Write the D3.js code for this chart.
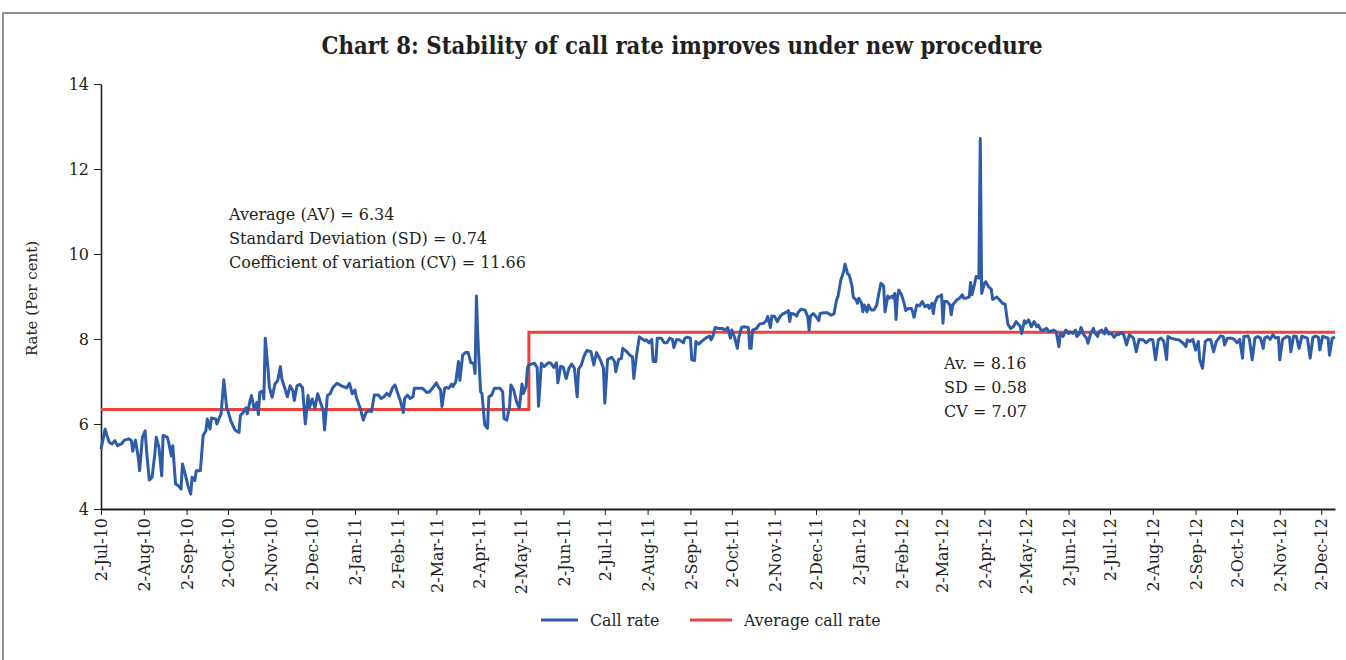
<!DOCTYPE html>
<html>
<head>
<meta charset="utf-8">
<script src="https://cdn.jsdelivr.net/npm/d3@7"></script>
<style>
  body { margin: 0; background: #fff; }
  svg { display: block; }
  text { font-family: "DejaVu Serif", serif; fill: #231f20; }
</style>
</head>
<body>
<svg id="chart"></svg>
<script>
// values (per cent)
const callRate = [
  ["2010-07-02",5.41],["2010-07-05",5.88],["2010-07-06",5.76],["2010-07-08",5.57],["2010-07-10",5.53],["2010-07-12",5.61],["2010-07-14",5.49],["2010-07-17",5.54],["2010-07-19",5.62],["2010-07-22",5.65],["2010-07-24",5.61],["2010-07-25",5.36],["2010-07-27",5.62],["2010-07-29",5.22],["2010-07-30",4.9],
  ["2010-08-01",5.69],["2010-08-03",5.84],["2010-08-04",5.37],["2010-08-06",4.68],["2010-08-08",4.75],["2010-08-10",5.29],["2010-08-11",5.69],["2010-08-13",5.45],["2010-08-15",4.78],["2010-08-16",5.73],["2010-08-19",5.69],["2010-08-20",5.57],["2010-08-22",5.25],["2010-08-23",5.49],["2010-08-25",4.59],["2010-08-27",4.55],["2010-08-29",4.47],["2010-08-30",5.06],
  ["2010-09-01",4.82],["2010-09-03",4.55],["2010-09-05",4.35],["2010-09-06",4.75],["2010-09-08",4.67],["2010-09-09",4.9],["2010-09-12",4.9],["2010-09-14",5.73],["2010-09-16",5.84],["2010-09-17",6.12],["2010-09-19",5.88],["2010-09-20",6.14],["2010-09-23",6.12],["2010-09-24",6.0],["2010-09-26",6.17],["2010-09-27",6.24],["2010-09-29",7.04],
  ["2010-10-01",6.39],["2010-10-02",6.31],["2010-10-04",6.08],["2010-10-07",5.86],["2010-10-10",5.8],["2010-10-11",6.2],["2010-10-13",6.27],["2010-10-15",6.38],["2010-10-16",6.24],["2010-10-18",6.55],["2010-10-19",6.67],["2010-10-21",6.35],["2010-10-23",6.51],["2010-10-24",6.22],["2010-10-25",6.75],["2010-10-27",6.77],["2010-10-28",6.59],["2010-10-29",8.02],["2010-10-31",7.29],
  ["2010-11-01",6.86],["2010-11-03",6.63],["2010-11-05",6.94],["2010-11-07",7.02],["2010-11-09",7.35],["2010-11-10",7.06],["2010-11-12",6.86],["2010-11-14",6.64],["2010-11-16",6.9],["2010-11-18",6.78],["2010-11-19",6.55],["2010-11-21",6.9],["2010-11-23",6.93],["2010-11-25",6.86],["2010-11-27",6.0],["2010-11-29",6.67],["2010-11-30",6.39],
  ["2010-12-02",6.59],["2010-12-04",6.38],["2010-12-06",6.71],["2010-12-08",6.51],["2010-12-10",6.31],["2010-12-11",5.86],["2010-12-13",6.67],["2010-12-15",6.71],["2010-12-17",6.86],["2010-12-20",6.96],["2010-12-23",6.9],["2010-12-27",6.85],["2010-12-29",6.96],["2010-12-31",6.71],
  ["2011-01-02",6.8],["2011-01-03",6.63],["2011-01-06",6.35],["2011-01-08",6.09],["2011-01-10",6.27],["2011-01-12",6.31],["2011-01-14",6.29],["2011-01-16",6.68],["2011-01-19",6.68],["2011-01-21",6.6],["2011-01-23",6.64],["2011-01-25",6.72],["2011-01-27",6.66],["2011-01-29",6.84],["2011-01-31",6.92],
  ["2011-02-02",6.72],["2011-02-04",6.53],["2011-02-06",6.27],["2011-02-07",6.6],["2011-02-09",6.68],["2011-02-11",6.6],["2011-02-13",6.64],["2011-02-14",6.84],["2011-02-17",6.84],["2011-02-20",6.84],["2011-02-23",6.74],["2011-02-25",6.76],["2011-02-28",6.88],
  ["2011-03-02",6.97],["2011-03-03",6.89],["2011-03-05",6.8],["2011-03-06",6.41],["2011-03-08",6.84],["2011-03-09",6.86],["2011-03-11",6.84],["2011-03-13",6.94],["2011-03-14",6.88],["2011-03-16",6.99],["2011-03-18",7.47],["2011-03-19",7.03],["2011-03-21",7.62],["2011-03-23",7.68],["2011-03-25",7.68],["2011-03-27",7.44],["2011-03-29",7.43],["2011-03-30",7.19],["2011-03-31",9.01],
  ["2011-04-01",8.05],["2011-04-03",6.76],["2011-04-04",6.72],["2011-04-06",5.98],["2011-04-08",5.9],["2011-04-09",6.64],["2011-04-11",6.68],["2011-04-13",6.84],["2011-04-17",6.84],["2011-04-19",6.76],["2011-04-20",6.13],["2011-04-22",6.09],["2011-04-24",6.42],["2011-04-25",6.92],["2011-04-27",6.8],["2011-04-29",6.53],
  ["2011-05-01",6.37],["2011-05-03",6.94],["2011-05-04",6.72],["2011-05-06",6.89],["2011-05-07",7.33],["2011-05-08",7.39],["2011-05-10",7.41],["2011-05-12",7.43],["2011-05-14",7.33],["2011-05-15",6.42],["2011-05-17",7.43],["2011-05-19",7.35],["2011-05-21",7.41],["2011-05-22",7.44],["2011-05-24",7.43],["2011-05-26",7.33],["2011-05-28",7.44],["2011-05-29",6.97],["2011-05-31",7.36],
  ["2011-06-02",7.33],["2011-06-03",7.19],["2011-06-04",7.07],["2011-06-06",7.31],["2011-06-08",7.41],["2011-06-10",7.31],["2011-06-12",6.64],["2011-06-13",7.29],["2011-06-15",7.39],["2011-06-17",7.6],["2011-06-19",7.73],["2011-06-22",7.7],["2011-06-24",7.39],["2011-06-26",7.68],["2011-06-27",7.62],["2011-06-29",7.49],
  ["2011-07-01",7.31],["2011-07-02",6.49],["2011-07-04",7.52],["2011-07-07",7.57],["2011-07-09",7.47],["2011-07-10",7.23],["2011-07-12",7.52],["2011-07-14",7.54],["2011-07-15",7.78],["2011-07-18",7.7],["2011-07-20",7.62],["2011-07-22",7.58],["2011-07-23",7.07],["2011-07-25",7.62],["2011-07-27",8.05],["2011-07-31",7.96],
  ["2011-08-01",7.98],["2011-08-03",7.91],["2011-08-05",7.99],["2011-08-06",7.47],["2011-08-08",7.47],["2011-08-09",8.02],["2011-08-12",8.02],["2011-08-14",7.91],["2011-08-16",7.91],["2011-08-18",8.02],["2011-08-20",7.99],["2011-08-21",7.8],["2011-08-23",7.99],["2011-08-25",7.98],["2011-08-28",7.91],["2011-08-29",8.02],["2011-08-31",8.04],
  ["2011-09-02",8.02],["2011-09-03",7.51],["2011-09-05",7.49],["2011-09-06",7.94],["2011-09-08",7.88],["2011-09-10",7.94],["2011-09-12",7.99],["2011-09-14",8.04],["2011-09-16",8.07],["2011-09-17",7.98],["2011-09-18",8.04],["2011-09-20",8.27],["2011-09-22",8.25],["2011-09-25",8.25],["2011-09-27",8.21],["2011-09-29",8.27],
  ["2011-10-01",8.02],["2011-10-02",8.21],["2011-10-04",8.04],["2011-10-06",7.78],["2011-10-07",8.02],["2011-10-09",8.27],["2011-10-11",8.29],["2011-10-14",8.27],["2011-10-15",7.78],["2011-10-16",7.78],["2011-10-17",8.21],["2011-10-20",8.25],["2011-10-22",8.35],["2011-10-25",8.37],["2011-10-27",8.43],["2011-10-28",8.53],["2011-10-30",8.27],["2011-10-31",8.54],
  ["2011-11-02",8.53],["2011-11-04",8.41],["2011-11-06",8.53],["2011-11-08",8.59],["2011-11-11",8.64],["2011-11-12",8.67],["2011-11-13",8.41],["2011-11-14",8.6],["2011-11-16",8.59],["2011-11-18",8.54],["2011-11-19",8.62],["2011-11-21",8.7],["2011-11-24",8.68],["2011-11-26",8.53],["2011-11-27",8.21],["2011-11-28",8.54],["2011-11-30",8.6],
  ["2011-12-02",8.53],["2011-12-04",8.43],["2011-12-05",8.6],["2011-12-08",8.62],["2011-12-10",8.62],["2011-12-13",8.56],["2011-12-15",8.59],["2011-12-17",8.93],["2011-12-18",9.01],["2011-12-20",9.39],["2011-12-22",9.58],["2011-12-23",9.76],["2011-12-25",9.53],["2011-12-26",9.51],["2011-12-28",9.27],["2011-12-29",8.99],["2011-12-31",8.92],
  ["2012-01-01",8.84],["2012-01-02",8.96],["2012-01-04",8.84],["2012-01-05",8.64],["2012-01-06",8.8],["2012-01-08",8.64],["2012-01-09",8.8],["2012-01-11",8.68],["2012-01-13",8.68],["2012-01-15",8.8],["2012-01-16",8.98],["2012-01-18",9.31],["2012-01-20",9.25],["2012-01-21",8.64],["2012-01-23",9.01],["2012-01-24",8.96],["2012-01-26",9.01],["2012-01-27",8.96],["2012-01-28",9.07],["2012-01-29",8.46],["2012-01-30",8.99],["2012-01-31",9.15],
  ["2012-02-02",9.04],["2012-02-04",8.82],["2012-02-05",8.67],["2012-02-07",8.72],["2012-02-09",8.72],["2012-02-10",8.64],["2012-02-11",8.51],["2012-02-13",8.8],["2012-02-15",8.78],["2012-02-17",8.88],["2012-02-19",8.76],["2012-02-21",8.8],["2012-02-22",8.72],["2012-02-24",8.84],["2012-02-25",8.6],["2012-02-26",8.84],["2012-02-28",8.99],
  ["2012-03-01",9.01],["2012-03-02",9.04],["2012-03-03",8.37],["2012-03-04",8.88],["2012-03-06",8.88],["2012-03-08",8.8],["2012-03-09",8.57],["2012-03-10",8.8],["2012-03-13",8.92],["2012-03-15",8.96],["2012-03-17",9.04],["2012-03-18",8.96],["2012-03-20",8.96],["2012-03-22",8.99],["2012-03-23",9.33],["2012-03-24",9.04],["2012-03-26",9.31],["2012-03-27",9.47],["2012-03-29",9.43],["2012-03-30",12.72],["2012-03-31",9.07],
  ["2012-04-02",9.31],["2012-04-03",9.35],["2012-04-05",9.23],["2012-04-07",9.17],["2012-04-08",8.93],["2012-04-11",8.99],["2012-04-13",8.92],["2012-04-15",8.84],["2012-04-17",8.82],["2012-04-19",8.35],["2012-04-21",8.25],["2012-04-23",8.29],["2012-04-25",8.41],["2012-04-28",8.29],["2012-04-29",8.13],
  ["2012-05-01",8.43],["2012-05-02",8.37],["2012-05-04",8.45],["2012-05-06",8.29],["2012-05-08",8.41],["2012-05-10",8.29],["2012-05-11",8.33],["2012-05-13",8.21],["2012-05-15",8.21],["2012-05-17",8.25],["2012-05-19",8.17],["2012-05-22",8.21],["2012-05-24",8.17],["2012-05-26",7.82],["2012-05-27",8.13],["2012-05-29",8.06],["2012-05-31",8.21],
  ["2012-06-02",8.13],["2012-06-03",8.17],["2012-06-05",8.13],["2012-06-07",8.21],["2012-06-08",8.06],["2012-06-10",8.13],["2012-06-11",8.27],["2012-06-13",8.1],["2012-06-15",8.02],["2012-06-16",7.9],["2012-06-18",8.13],["2012-06-20",8.25],["2012-06-21",8.15],["2012-06-23",8.06],["2012-06-24",8.17],["2012-06-26",8.21],["2012-06-28",8.12],["2012-06-29",8.25],
  ["2012-07-01",8.12],["2012-07-03",8.13],["2012-07-05",8.04],["2012-07-07",8.12],["2012-07-08",8.1],["2012-07-10",8.15],["2012-07-12",8.1],["2012-07-14",7.86],["2012-07-16",8.1],["2012-07-19",8.02],["2012-07-21",7.7],["2012-07-23",7.99],["2012-07-26",7.98],["2012-07-28",7.91],["2012-07-31",7.99],
  ["2012-08-02",7.98],["2012-08-04",7.51],["2012-08-06",7.98],["2012-08-08",8.02],["2012-08-10",7.94],["2012-08-12",7.52],["2012-08-13",8.06],["2012-08-15",8.02],["2012-08-19",7.99],["2012-08-21",7.98],["2012-08-24",7.9],["2012-08-26",7.82],["2012-08-27",7.98],["2012-08-29",7.94],["2012-08-31",7.99],
  ["2012-09-02",7.74],["2012-09-04",7.94],["2012-09-05",7.51],["2012-09-07",7.31],["2012-09-09",7.94],["2012-09-11",7.99],["2012-09-13",7.98],["2012-09-15",7.7],["2012-09-17",7.94],["2012-09-20",8.07],["2012-09-22",8.06],["2012-09-23",7.86],["2012-09-25",8.02],["2012-09-28",8.02],["2012-09-30",7.99],
  ["2012-10-02",7.91],["2012-10-04",7.99],["2012-10-06",7.55],["2012-10-07",8.06],["2012-10-10",8.07],["2012-10-11",7.99],["2012-10-13",7.51],["2012-10-15",8.02],["2012-10-17",8.06],["2012-10-19",8.02],["2012-10-21",7.78],["2012-10-22",8.02],["2012-10-24",8.06],["2012-10-26",7.99],["2012-10-28",8.1],["2012-10-30",8.02],
  ["2012-11-01",8.04],["2012-11-02",7.51],["2012-11-04",7.99],["2012-11-07",8.06],["2012-11-09",8.04],["2012-11-10",7.7],["2012-11-12",8.07],["2012-11-14",8.06],["2012-11-16",7.78],["2012-11-18",8.07],["2012-11-20",8.04],["2012-11-22",8.02],["2012-11-24",7.55],["2012-11-26",8.04],["2012-11-28",8.07],["2012-11-30",8.04],
  ["2012-12-01",7.74],["2012-12-03",8.06],["2012-12-05",8.04],["2012-12-07",8.02],["2012-12-08",7.62],["2012-12-10",8.02],["2012-12-12",8.04]
];

// average call rate before / after the new operating procedure
const averageDates = ["2010-07-02", "2011-05-08", "2012-12-12"];
const averageValues = [6.34, 8.16, 8.16];

const yTicks = [4, 6, 8, 10, 12, 14];
const xTickLabels = [
  "2-Jul-10", "2-Aug-10", "2-Sep-10", "2-Oct-10", "2-Nov-10", "2-Dec-10",
  "2-Jan-11", "2-Feb-11", "2-Mar-11", "2-Apr-11", "2-May-11", "2-Jun-11",
  "2-Jul-11", "2-Aug-11", "2-Sep-11", "2-Oct-11", "2-Nov-11", "2-Dec-11",
  "2-Jan-12", "2-Feb-12", "2-Mar-12", "2-Apr-12", "2-May-12", "2-Jun-12",
  "2-Jul-12", "2-Aug-12", "2-Sep-12", "2-Oct-12", "2-Nov-12", "2-Dec-12"
];

const noteBefore = ["Average (AV) = 6.34", "Standard Deviation (SD) = 0.74", "Coefficient of variation (CV) = 11.66"];
const noteAfter = ["Av. = 8.16", "SD = 0.58", "CV = 7.07"];
const legendItems = ["Call rate", "Average call rate"];

const config = {
  width: 1346,
  height: 660,
  margin: { top: 84, right: 11, bottom: 151, left: 101 },
  blue: '#2e5ca8',
  red: '#ef4138',
  ink: '#231f20'
};

const parseDay = d3.timeParse('%Y-%m-%d');
const parseTick = d3.timeParse('%d-%b-%y');

createChart('chart', config);

function createChart(id, config) {
  config.svg = d3.select(`#${id}`)
    .attr('width', config.width)
    .attr('height', config.height);
  setScales(config);
  drawFrame(config);
  drawTitle(config);
  drawAxes(config);
  drawLines(config);
  drawNotes(config);
  drawLegend(config);
}

function setScales(config) {
  const m = config.margin;
  config.x = d3.scaleTime()
    .domain([parseDay(averageDates[0]), parseDay(averageDates[averageDates.length - 1])])
    .range([m.left, config.width - m.right]);
  config.y = d3.scaleLinear()
    .domain([4, 14])
    .range([config.height - m.bottom, m.top]);
}

function drawFrame(config) {
  config.svg.append('path')
    .attr('d', `M3,${config.height} V13 H${config.width}`)
    .attr('fill', 'none')
    .attr('stroke', '#6d6e71')
    .attr('stroke-width', 1.5);
}

function drawTitle(config) {
  config.svg.append('text')
    .attr('x', 682)
    .attr('y', 54)
    .attr('text-anchor', 'middle')
    .attr('textLength', 721)
    .attr('lengthAdjust', 'spacingAndGlyphs')
    .style('font-size', '24px')
    .style('font-weight', 'bold')
    .text('Chart 8: Stability of call rate improves under new procedure');
}

function drawAxes(config) {
  const m = config.margin;
  const xAxis = d3.axisBottom(config.x)
    .tickValues(xTickLabels.map(parseTick))
    .tickFormat(d3.timeFormat('%-d-%b-%y'))
    .tickSize(6)
    .tickSizeOuter(0);

  const gx = config.svg.append('g')
    .attr('transform', `translate(0,${config.height - m.bottom})`)
    .call(xAxis);
  gx.select('.domain').attr('stroke', config.ink).attr('stroke-width', 2.2);
  gx.selectAll('.tick line').attr('stroke', config.ink).attr('stroke-width', 1);
  gx.selectAll('.tick text')
    .attr('transform', 'rotate(-90)')
    .attr('x', -9)
    .attr('y', 0)
    .attr('dy', '0.36em')
    .attr('text-anchor', 'end')
    .attr('fill', config.ink)
    .style('font-size', '16px');

  const yAxis = d3.axisLeft(config.y)
    .tickValues(yTicks)
    .tickSize(7)
    .tickPadding(5)
    .tickSizeOuter(0);

  const gy = config.svg.append('g')
    .attr('transform', `translate(${m.left},0)`)
    .call(yAxis);
  gy.select('.domain').attr('stroke', config.ink).attr('stroke-width', 1.6);
  gy.selectAll('.tick line').attr('stroke', config.ink).attr('stroke-width', 1);
  gy.selectAll('.tick text')
    .attr('fill', config.ink)
    .style('font-size', '16px');

  config.svg.append('text')
    .attr('transform', `translate(37,${(config.y(4) + config.y(14)) / 2 + 2}) rotate(-90)`)
    .attr('text-anchor', 'middle')
    .style('font-size', '15px')
    .text('Rate (Per cent)');
}

function drawLines(config) {
  const callLine = d3.line()
    .x(d => config.x(parseDay(d[0])))
    .y(d => config.y(d[1]));

  const avgLine = d3.line()
    .x((d, i) => config.x(parseDay(d)))
    .y((d, i) => config.y(averageValues[i]))
    .curve(d3.curveStepAfter);

  config.svg.append('path')
    .datum(averageDates)
    .attr('d', avgLine)
    .attr('fill', 'none')
    .attr('stroke', config.red)
    .attr('stroke-width', 3);

  config.svg.append('path')
    .datum(callRate)
    .attr('d', callLine)
    .attr('fill', 'none')
    .attr('stroke', config.blue)
    .attr('stroke-width', 3)
    .attr('stroke-linejoin', 'round');
}

function drawNotes(config) {
  const notes = [
    { lines: noteBefore, x: 229, y: 220 },
    { lines: noteAfter, x: 944, y: 369 }
  ];
  notes.forEach(note => {
    config.svg.append('g')
      .selectAll('text')
      .data(note.lines)
      .enter()
      .append('text')
      .attr('x', note.x)
      .attr('y', (d, i) => note.y + i * 24)
      .style('font-size', '16px')
      .text(d => d);
  });
}

function drawLegend(config) {
  const items = [
    { label: legendItems[0], color: config.blue, x: 541, len: 37 },
    { label: legendItems[1], color: config.red, x: 690, len: 42 }
  ];
  const g = config.svg.append('g').attr('transform', 'translate(0,620)');
  items.forEach(item => {
    g.append('line')
      .attr('x1', item.x)
      .attr('x2', item.x + item.len)
      .attr('stroke', item.color)
      .attr('stroke-width', 3);
    g.append('text')
      .attr('x', item.x + item.len + 12)
      .attr('dy', '0.35em')
      .style('font-size', '15.8px')
      .text(item.label);
  });
}
</script>
</body>
</html>
